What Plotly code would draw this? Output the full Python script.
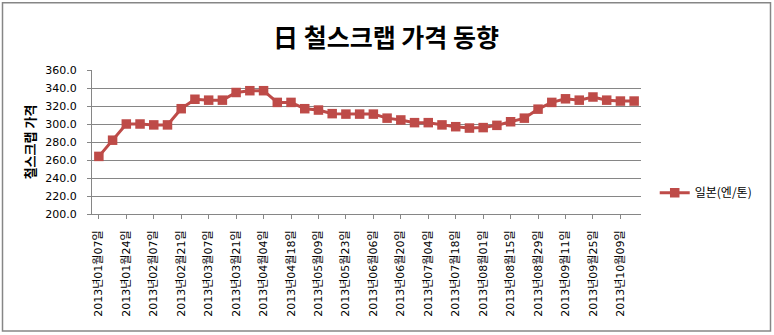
import plotly.graph_objects as go

# Weekly Japanese scrap price (yen/ton index), 2013
dates = [
    "2013년01월07일", "2013년01월14일", "2013년01월24일", "2013년01월31일",
    "2013년02월07일", "2013년02월14일", "2013년02월21일", "2013년02월28일",
    "2013년03월07일", "2013년03월14일", "2013년03월21일", "2013년03월28일",
    "2013년04월04일", "2013년04월11일", "2013년04월18일", "2013년05월02일",
    "2013년05월09일", "2013년05월16일", "2013년05월23일", "2013년05월30일",
    "2013년06월06일", "2013년06월13일", "2013년06월20일", "2013년06월27일",
    "2013년07월04일", "2013년07월11일", "2013년07월18일", "2013년07월25일",
    "2013년08월01일", "2013년08월08일", "2013년08월15일", "2013년08월22일",
    "2013년08월29일", "2013년09월05일", "2013년09월11일", "2013년09월18일",
    "2013년09월25일", "2013년10월02일", "2013년10월09일", "2013년10월16일",
]
prices = [
    264, 282, 300, 300, 299, 299, 317, 327.5, 326.5, 326.5,
    335, 337, 337, 324, 324, 317, 315.5, 311.5, 311, 311,
    311, 306.5, 304.5, 301.5, 301.5, 299, 297, 295.5, 296, 298.5,
    302.5, 306.5, 316.5, 324, 328, 326.5, 330, 326.5, 325.5, 325.5,
]
tick_labels = dates[::2]
y_ticks = [200, 220, 240, 260, 280, 300, 320, 340, 360]

series_name = "일본(엔/톤)"
title_text = "日 철스크랩 가격 동향"
y_title = "철스크랩 가격"

RED = "#BE4B48"
GRID = "#868686"
FONT = "Noto Sans CJK KR"
TICK_FONT = "DejaVu Sans, Noto Sans CJK KR"

fig = go.Figure()
fig.add_trace(go.Scatter(
    x=dates, y=prices, name=series_name, mode="lines+markers",
    line=dict(color=RED, width=3),
    marker=dict(symbol="square", size=9.5, color=RED),
))

fig.update_layout(
    width=774, height=335,
    margin=dict(l=92, r=133, t=70, b=121),
    paper_bgcolor="white", plot_bgcolor="white",
    font=dict(family=FONT, color="#000000", size=11),
    showlegend=True,
    legend=dict(x=1.025, y=0.148, xanchor="left", yanchor="middle",
                font=dict(size=12, color="#000000"),
                bgcolor="rgba(0,0,0,0)", itemwidth=30),
    title=dict(text="<b>" + title_text + "</b>", x=(386 - 92) / 549, xref="paper",
               xanchor="center", y=1 - 38 / 335, yanchor="middle",
               font=dict(size=25, family=FONT, color="#000000")),
)

fig.update_xaxes(
    type="category", tickmode="array", tickvals=tick_labels, ticktext=tick_labels,
    tickangle=-90, showgrid=False, showline=True, linecolor=GRID, linewidth=1,
    ticks="outside", ticklen=4, tickcolor=GRID, ticklabelstandoff=7,
    tickfont=dict(size=11, color="#000000", family=TICK_FONT),
    range=[-0.5, len(dates) - 0.5], zeroline=False,
)
fig.update_yaxes(
    range=[200, 360], tickmode="array", tickvals=y_ticks, tickformat=".1f",
    showgrid=True, gridcolor=GRID, gridwidth=1,
    showline=True, linecolor=GRID, linewidth=1,
    ticks="outside", ticklen=4, tickcolor=GRID, ticklabelstandoff=8,
    tickfont=dict(size=11, color="#000000", family=TICK_FONT),
    title=dict(text="<b>" + y_title + "</b>", font=dict(size=13, family=FONT),
               standoff=6),
    zeroline=False,
)

# Chart-area frame around the whole figure
fig.add_shape(type="rect", xref="paper", yref="paper",
              x0=(2.5 - 92) / 549, x1=(770.5 - 92) / 549,
              y0=(214.3 - 331.5) / 144.3, y1=(214.3 - 2.5) / 144.3,
              line=dict(color="#868686", width=1.5), fillcolor="rgba(0,0,0,0)",
              layer="below")

fig.write_html("out.html")
